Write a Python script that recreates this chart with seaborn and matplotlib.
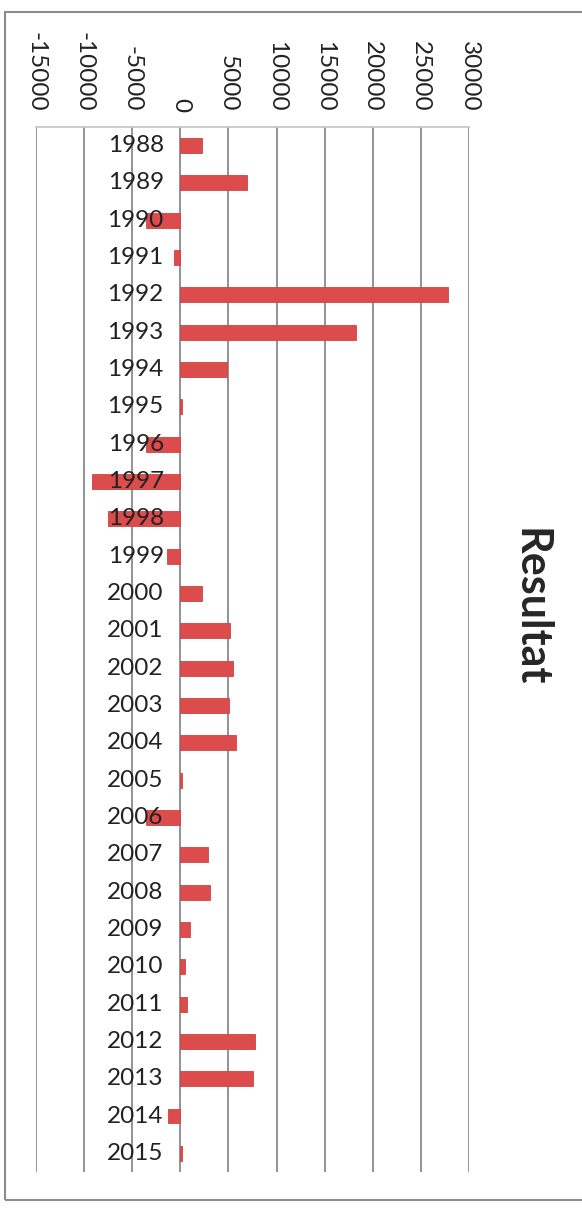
import numpy as np
import pandas as pd
import matplotlib
matplotlib.use("Agg")
import matplotlib.pyplot as plt
import seaborn as sns
from matplotlib.patches import Rectangle

# data
years = [1988, 1989, 1990, 1991, 1992, 1993, 1994, 1995, 1996, 1997,
         1998, 1999, 2000, 2001, 2002, 2003, 2004, 2005, 2006, 2007,
         2008, 2009, 2010, 2011, 2012, 2013, 2014, 2015]
resultat = [2300, 6900, -3600, -700, 27800, 18300, 4800, 200, -3600, -9200,
            -7500, -1400, 2200, 5200, 5500, 5100, 5800, 150, -3600, 2900,
            3100, 1000, 500, 700, 7800, 7600, -1300, 150]
value_ticks = [-15000, -10000, -5000, 0, 5000, 10000, 15000, 20000, 25000, 30000]
title = "Resultat"

df = pd.DataFrame({"Year": [str(y) for y in years], "Resultat": resultat})

sns.set_theme(style="white")
plt.rcParams["font.family"] = ["Lato", "DejaVu Sans"]

fig = plt.figure(figsize=(5.82, 12.08), dpi=100)
ax = fig.add_axes([0.0619, 0.0298, 0.7439, 0.8651])

sns.barplot(data=df, x="Resultat", y="Year", orient="h", color="#DD4C4C",
            saturation=1, width=0.4, edgecolor="#CF4444", linewidth=0.6, ax=ax)

ax.set_xlim(value_ticks[0], value_ticks[-1])
ax.set_xticks(value_ticks)
ax.set_xticklabels([str(v) for v in value_ticks], rotation=-90, fontsize=17.5, color="#222222")
ax.xaxis.tick_top()
ax.tick_params(axis="x", length=0, pad=11)
ax.set_yticks([])
ax.set_xlabel("")
ax.set_ylabel("")

ax.grid(axis="x", color="#8a8a8a", linewidth=1.3)
ax.set_axisbelow(True)
for side in ["left", "right", "bottom"]:
    ax.spines[side].set_visible(False)
ax.spines["top"].set_color("#c8c8c8")
ax.spines["top"].set_linewidth(1.3)

# year labels sit next to the zero line, on top of the bars
for i, yr in enumerate(df["Year"]):
    ax.annotate(yr, xy=(0, i), xytext=(-12, 0), textcoords="offset points",
                ha="right", va="center", fontsize=17.5, color="#222222", zorder=5)

fig.text(0.912, 0.497, title, rotation=-90, fontsize=31, fontweight="bold",
         ha="center", va="center")

# chart frame (right edge cropped off in the original)
fig.patches.append(Rectangle((0.0086, 0.0066), 1.5, 0.9834, transform=fig.transFigure,
                             fill=False, edgecolor="#8c8c8c", linewidth=1.5))

fig.savefig("out.png", dpi=100)
